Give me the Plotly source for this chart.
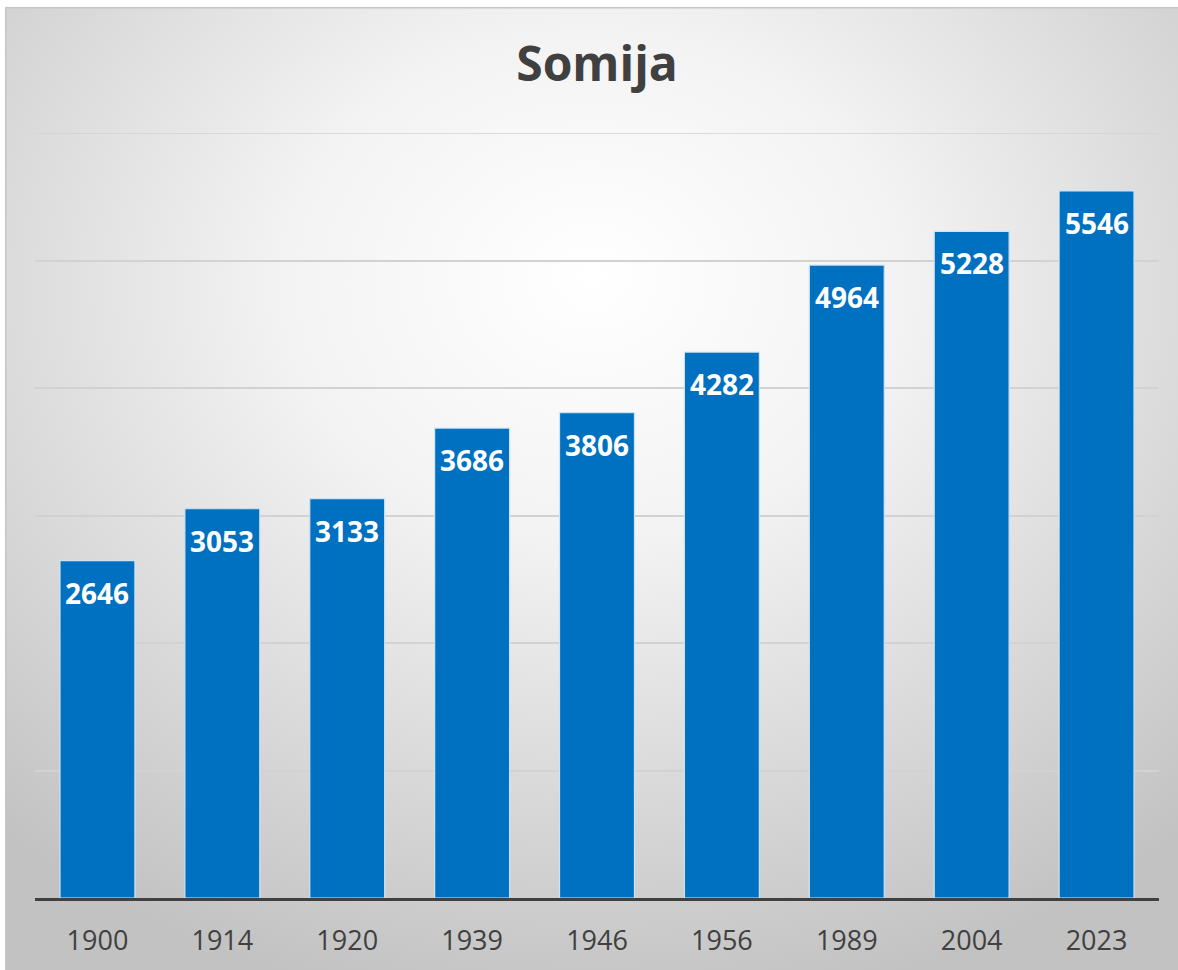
import plotly.graph_objects as go
import urllib.parse

years = ["1900", "1914", "1920", "1939", "1946", "1956", "1989", "2004", "2023"]
population = [2646, 3053, 3133, 3686, 3806, 4282, 4964, 5228, 5546]
title_text = "Somija"
y_max = 6000

W, H = 1178, 970
ml, mr, mt, mb = 35, W - 1159, 133, H - 898
pw, ph = W - ml - mr, H - mt - mb

# chart-area background (radial grey gradient with thin border), starting at (5, 7)
BX, BY = 5, 7
BW, BH = W - BX, H - BY
svg = (
    f'<svg xmlns="http://www.w3.org/2000/svg" width="{BW}" height="{BH}" viewBox="0 0 {BW} {BH}" preserveAspectRatio="none">'
    '<defs><radialGradient id="g" cx="50%" cy="30%" r="75%" fx="50%" fy="28%">'
    '<stop offset="0%" stop-color="#ffffff"/><stop offset="35%" stop-color="#f3f3f3"/>'
    '<stop offset="100%" stop-color="#c2c2c2"/></radialGradient></defs>'
    f'<rect x="0.75" y="0.75" width="{BW}" height="{BH}" fill="url(#g)" stroke="#c6c6c6" stroke-width="1.5"/>'
    '</svg>'
)
src = "data:image/svg+xml;charset=utf-8," + urllib.parse.quote(svg)

fig = go.Figure()
fig.add_trace(go.Bar(
    x=years, y=population, width=0.6,
    marker=dict(color="#0070C0", line=dict(color="#cfe3f3", width=1.2)),
    hoverinfo="skip",
))

for i, yv in enumerate(population):
    fig.add_annotation(x=i, y=yv, text=f"<b>{yv}</b>", showarrow=False,
                       yanchor="middle", yshift=-32,
                       font=dict(family="Open Sans", size=28, color="white"))

fig.add_layout_image(dict(
    source=src, xref="paper", yref="paper",
    x=(BX - ml) / pw, y=(H - mb - BY) / ph,
    sizex=BW / pw, sizey=BH / ph,
    sizing="stretch", xanchor="left", yanchor="top", layer="below",
))

# top gridline at the edge of the value range (plotly drops grid lines on the edge)
fig.add_shape(type="line", xref="paper", yref="y", x0=0, x1=1, y0=y_max, y1=y_max,
              line=dict(color="#d2d2d2", width=1.5), layer="below")

fig.update_layout(
    width=W, height=H,
    margin=dict(l=ml, r=mr, t=mt, b=mb),
    paper_bgcolor="white", plot_bgcolor="rgba(0,0,0,0)",
    showlegend=False,
    title=dict(text="<b>" + title_text + "</b>", x=597 / W, xanchor="center",
               y=1 - 64 / H, yanchor="middle",
               font=dict(family="Open Sans", size=48, color="#404040")),
    xaxis=dict(type="category", showline=True, linecolor="#404040", linewidth=3, ticks="",
               tickfont=dict(family="Open Sans", size=27, color="#404040"),
               ticklabelstandoff=17, showgrid=False, fixedrange=True, automargin=False,
               range=[-0.5, len(years) - 0.5]),
    yaxis=dict(range=[0, y_max], dtick=1000,
               showticklabels=False, showgrid=True,
               gridcolor="#d2d2d2", gridwidth=1.5, zeroline=False, fixedrange=True,
               automargin=False),
)

fig.write_html(
    "out.html",
    config={"displayModeBar": False},
    post_script="document.body.style.margin='0';document.documentElement.style.overflow='hidden';document.body.style.overflow='hidden';",
)
